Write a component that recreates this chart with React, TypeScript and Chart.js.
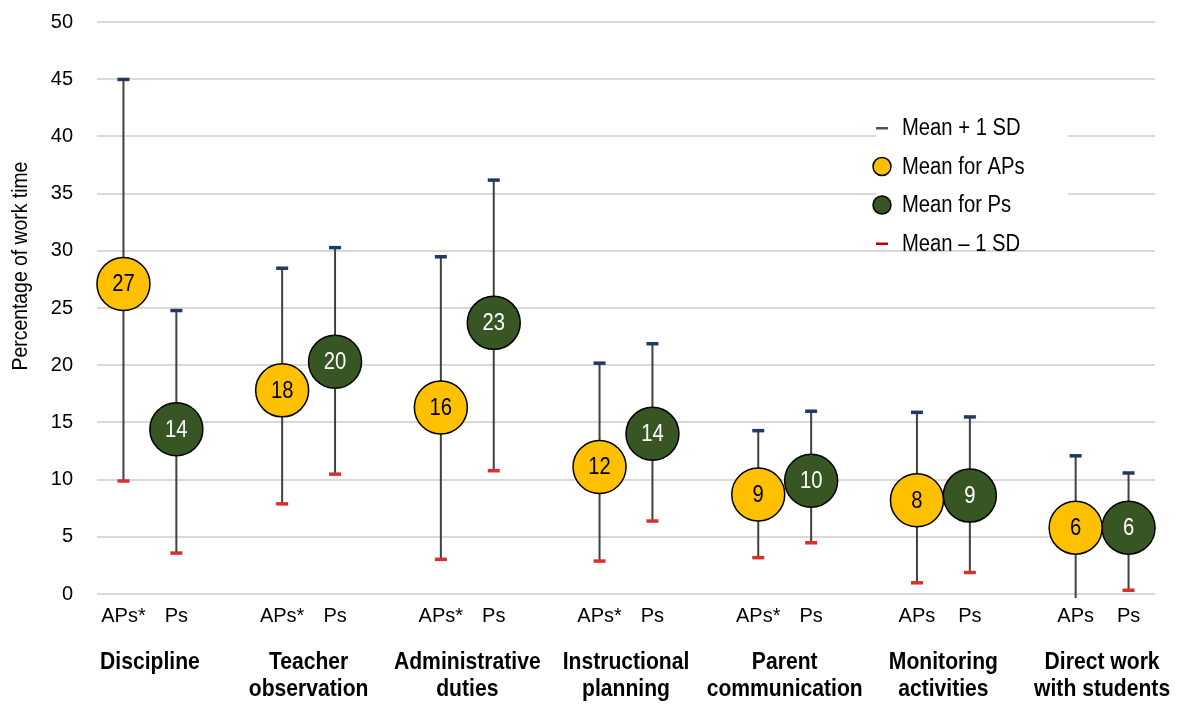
import React, { useEffect, useRef } from 'react';
import { Chart, registerables } from 'chart.js';

Chart.register(...registerables);

// ---------- data ----------
const groupLabels: string[][] = [
  ['Discipline'],
  ['Teacher', 'observation'],
  ['Administrative', 'duties'],
  ['Instructional', 'planning'],
  ['Parent', 'communication'],
  ['Monitoring', 'activities'],
  ['Direct work', 'with students'],
];
const apTickLabels = ['APs*', 'APs*', 'APs*', 'APs*', 'APs*', 'APs', 'APs'];
const psTickLabels = ['Ps', 'Ps', 'Ps', 'Ps', 'Ps', 'Ps', 'Ps'];

const apMean = [27.1, 17.8, 16.3, 11.1, 8.7, 8.2, 5.8];
const apUpper = [45.0, 28.5, 29.5, 20.2, 14.3, 15.9, 12.1];
const apLower = [9.9, 7.9, 3.05, 2.9, 3.2, 1.0, -0.35];
const apValueLabels = ['27', '18', '16', '12', '9', '8', '6'];

const psMean = [14.4, 20.3, 23.7, 14.0, 9.9, 8.6, 5.8];
const psUpper = [24.8, 30.3, 36.2, 21.9, 16.0, 15.5, 10.6];
const psLower = [3.6, 10.5, 10.8, 6.4, 4.5, 1.9, 0.35];
const psValueLabels = ['14', '20', '23', '14', '10', '9', '6'];

const legendLabels = ['Mean + 1 SD', 'Mean for APs', 'Mean for Ps', 'Mean \u2013 1 SD'];
const yTitle = 'Percentage of work time';

// ---------- styles ----------
const FONT = "'Liberation Sans', Arial, Helvetica, sans-serif";
const SQUEEZE = 0.88;
const YELLOW = '#FFC000';
const GREEN = '#375623';
const NAVY = '#1F3864';
const RED = '#D9302C';
const WHISKER = '#404040';

function squeezedText(ctx: CanvasRenderingContext2D, text: string, x: number, y: number) {
  ctx.save();
  ctx.translate(x, y);
  ctx.scale(SQUEEZE, 1);
  ctx.fillText(text, 0, 0);
  ctx.restore();
}

export default function App() {
  const ref = useRef<HTMLCanvasElement>(null);

  useEffect(() => {
    if (!ref.current) return;
    const apX = apMean.map((_, i) => i * 3);
    const psX = psMean.map((_, i) => i * 3 + 1);
    const tickValues = [...apX, ...psX].sort((a, b) => a - b);
    const tickLabelFor = (v: number) => {
      const g = Math.floor(v / 3);
      const r = v - g * 3;
      if (r === 0) return apTickLabels[g];
      if (r === 1) return psTickLabels[g];
      return '';
    };

    const errorPlugin = {
      id: 'errorBars',
      beforeDatasetsDraw(chart: any) {
        const { ctx, chartArea: a } = chart;
        const x = chart.scales.x;
        const y = chart.scales.y;
        ctx.save();
        ctx.beginPath();
        ctx.rect(a.left, a.top - 10, a.right - a.left, a.bottom - a.top + 14);
        ctx.clip();
        const draw = (xs: number[], lo: number[], hi: number[]) => {
          xs.forEach((xv, i) => {
            const px = x.getPixelForValue(xv);
            ctx.strokeStyle = WHISKER;
            ctx.lineWidth = 2;
            ctx.beginPath();
            ctx.moveTo(px, y.getPixelForValue(lo[i]));
            ctx.lineTo(px, y.getPixelForValue(hi[i]));
            ctx.stroke();
            if (hi[i] >= 0) {
              ctx.fillStyle = NAVY;
              ctx.fillRect(px - 6, y.getPixelForValue(hi[i]) - 1.5, 12, 3.5);
            }
            if (lo[i] >= 0) {
              ctx.fillStyle = RED;
              ctx.fillRect(px - 6, y.getPixelForValue(lo[i]) - 1.5, 12, 3.5);
            }
          });
        };
        draw(apX, apLower, apUpper);
        draw(psX, psLower, psUpper);
        ctx.restore();
      },
      afterDatasetsDraw(chart: any) {
        const { ctx } = chart;
        const x = chart.scales.x;
        const y = chart.scales.y;
        ctx.save();
        ctx.font = `23px ${FONT}`;
        ctx.textAlign = 'center';
        ctx.textBaseline = 'middle';
        apX.forEach((xv, i) => {
          ctx.fillStyle = '#000';
          squeezedText(ctx, apValueLabels[i], x.getPixelForValue(xv), y.getPixelForValue(apMean[i]) + 1);
        });
        psX.forEach((xv, i) => {
          ctx.fillStyle = '#fff';
          squeezedText(ctx, psValueLabels[i], x.getPixelForValue(xv), y.getPixelForValue(psMean[i]) + 1);
        });
        ctx.restore();
      },
      afterDraw(chart: any) {
        const { ctx, chartArea: a } = chart;
        const x = chart.scales.x;
        ctx.save();
        // group labels
        ctx.font = `bold 24px ${FONT}`;
        ctx.fillStyle = '#000';
        ctx.textAlign = 'center';
        ctx.textBaseline = 'alphabetic';
        groupLabels.forEach((lines, g) => {
          const cx = x.getPixelForValue(g * 3 + 0.5);
          lines.forEach((ln, k) => {
            squeezedText(ctx, ln, cx, a.bottom + 75 + k * 27);
          });
        });
        // y title
        ctx.save();
        ctx.translate(21, (a.top + a.bottom) / 2 - 42);
        ctx.rotate(-Math.PI / 2);
        ctx.scale(SQUEEZE, 1);
        ctx.font = `22px ${FONT}`;
        ctx.textAlign = 'center';
        ctx.textBaseline = 'middle';
        ctx.fillText(yTitle, 0, 0);
        ctx.restore();
        // legend
        const lx = a.right - 273;
        const ly = a.top + 106;
        const step = 38.5;
        ctx.fillStyle = '#fff';
        ctx.fillRect(lx - 6, ly - 18, 192, step * 2 + 36);
        legendLabels.forEach((lab, k) => {
          const cy = ly + k * step;
          if (k === 0 || k === 3) {
            ctx.fillStyle = k === 0 ? '#44546A' : '#C00000';
            ctx.fillRect(lx - 6, cy - 1, 12, 2.5);
          } else {
            ctx.beginPath();
            ctx.arc(lx, cy, 9, 0, Math.PI * 2);
            ctx.fillStyle = k === 1 ? YELLOW : GREEN;
            ctx.fill();
            ctx.lineWidth = 1.5;
            ctx.strokeStyle = '#000';
            ctx.stroke();
          }
          ctx.fillStyle = '#000';
          ctx.font = `23px ${FONT}`;
          ctx.textAlign = 'left';
          ctx.textBaseline = 'middle';
          squeezedText(ctx, lab, lx + 20, cy + 1);
        });
        ctx.restore();
      },
    };

    const chart = new Chart(ref.current, {
      type: 'scatter',
      data: {
        datasets: [
          {
            label: 'Mean for APs',
            data: apX.map((xv, i) => ({ x: xv, y: apMean[i] })),
            backgroundColor: YELLOW,
            borderColor: '#000',
            borderWidth: 1.5,
            pointRadius: 26.5,
            pointHoverRadius: 26.5,
            clip: false as any,
          },
          {
            label: 'Mean for Ps',
            data: psX.map((xv, i) => ({ x: xv, y: psMean[i] })),
            backgroundColor: GREEN,
            borderColor: '#000',
            borderWidth: 1.5,
            pointRadius: 26.5,
            pointHoverRadius: 26.5,
            clip: false as any,
          },
        ],
      },
      options: {
        responsive: false,
        animation: false,
        events: [],
        layout: { autoPadding: false, padding: { left: 0, right: 25, top: 22, bottom: 0 } },
        plugins: { legend: { display: false }, tooltip: { enabled: false } },
        scales: {
          x: {
            type: 'linear',
            min: -0.5,
            max: 19.5,
            grid: { display: false },
            border: { display: false },
            afterBuildTicks: (s: any) => {
              s.ticks = tickValues.map((v) => ({ value: v }));
            },
            afterFit: (s: any) => {
              s.height = 112;
              s.paddingTop = 0;
              s.paddingBottom = 0;
              s.paddingLeft = 0;
              s.paddingRight = 0;
            },
            ticks: {
              autoSkip: false,
              maxRotation: 0,
              padding: 2,
              color: '#000',
              font: { family: FONT, size: 20 },
              callback: (v: any) => tickLabelFor(Number(v)),
            },
          },
          y: {
            min: 0,
            max: 50,
            grid: { color: '#D9D9D9', lineWidth: 2, drawTicks: false },
            border: { display: false },
            afterFit: (s: any) => {
              s.width = 97;
              s.paddingTop = 0;
              s.paddingBottom = 0;
              s.paddingLeft = 0;
              s.paddingRight = 0;
            },
            ticks: {
              stepSize: 5,
              padding: 24,
              color: '#000',
              font: { family: FONT, size: 20 },
            },
          },
        },
      },
      plugins: [errorPlugin],
    });
    return () => chart.destroy();
  }, []);

  return (
    <div style={{ position: 'absolute', left: 0, top: 0, width: 1180, height: 706, background: '#fff' }}>
      <canvas ref={ref} width={1180} height={706} style={{ display: 'block' }} />
    </div>
  );
}
